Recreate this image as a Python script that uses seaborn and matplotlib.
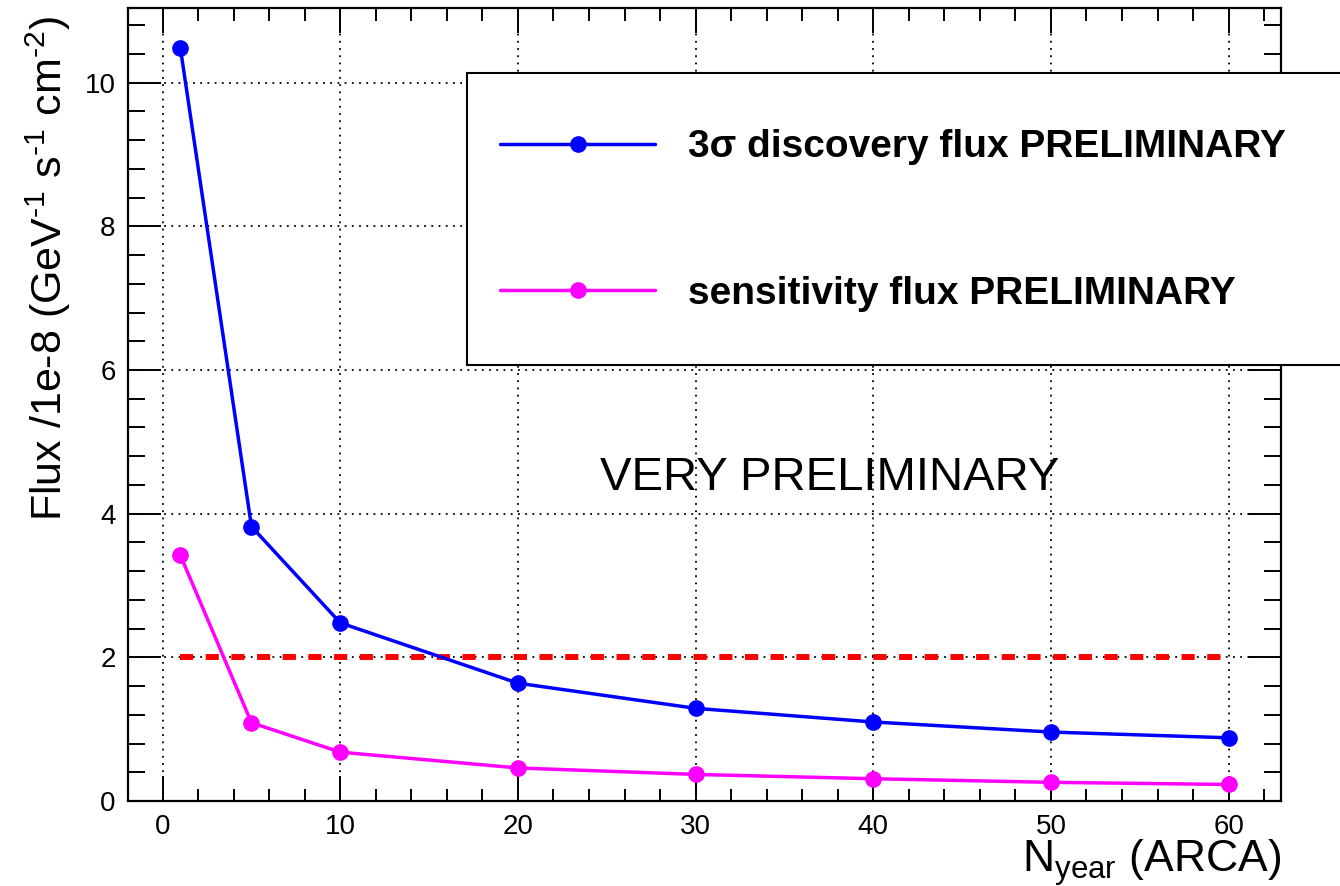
import matplotlib
matplotlib.use("Agg")
import matplotlib.pyplot as plt
from matplotlib.patches import Rectangle
from matplotlib.ticker import MultipleLocator
from matplotlib import font_manager
import seaborn as sns
import pandas as pd

# Number of years of ARCA data taking
n_year = [1, 5, 10, 20, 30, 40, 50, 60]
# 3 sigma discovery flux (units of 1e-8 GeV^-1 s^-1 cm^-2)
discovery_flux = [10.48, 3.82, 2.48, 1.64, 1.29, 1.10, 0.96, 0.88]
# Sensitivity flux (same units)
sensitivity_flux = [3.42, 1.09, 0.68, 0.46, 0.37, 0.31, 0.26, 0.23]
# Reference flux level
reference_level = 2.0
reference_span = [1, 60]

label_discovery = "3σ discovery flux PRELIMINARY"
label_sensitivity = "sensitivity flux PRELIMINARY"

sns.set_style("white")
plt.rcParams["font.family"] = ["Liberation Sans", "DejaVu Sans"]
plt.rcParams["mathtext.fontset"] = "custom"
plt.rcParams["mathtext.rm"] = "Liberation Sans"
plt.rcParams["mathtext.it"] = "Liberation Sans"
plt.rcParams["axes.unicode_minus"] = False
plt.rcParams["text.color"] = "black"
plt.rcParams["axes.labelcolor"] = "black"
plt.rcParams["xtick.color"] = "black"
plt.rcParams["ytick.color"] = "black"

installed = {f.name for f in font_manager.fontManager.ttflist}
legend_family = (["Liberation Sans Narrow", "DejaVu Sans"] if "Liberation Sans Narrow" in installed
                 else ["Liberation Sans", "DejaVu Sans"])

df_disc = pd.DataFrame({"n_year": n_year, "flux": discovery_flux})
df_sens = pd.DataFrame({"n_year": n_year, "flux": sensitivity_flux})

W, H = 1340, 886
fig = plt.figure(figsize=(W / 100, H / 100), dpi=100)
ax = fig.add_axes([128 / W, 1 - 801 / H, (1281 - 128) / W, (801 - 8) / H])

ax.plot(reference_span, [reference_level] * len(reference_span), color="#ff0000", lw=4.3,
        linestyle=(0, (2.2, 2.1)), dash_capstyle="butt", zorder=3)
sns.lineplot(data=df_disc, x="n_year", y="flux", ax=ax, color="#0000ff", lw=2.5,
             marker="o", markersize=12, markeredgewidth=0, label=label_discovery, zorder=4)
sns.lineplot(data=df_sens, x="n_year", y="flux", ax=ax, color="#ff00ff", lw=2.5,
             marker="o", markersize=12, markeredgewidth=0, label=label_sensitivity, zorder=4)

ax.set_xlim(-1.95, 62.95)
ax.set_ylim(0, 11.04)
ax.xaxis.set_major_locator(MultipleLocator(10))
ax.xaxis.set_minor_locator(MultipleLocator(2))
ax.yaxis.set_major_locator(MultipleLocator(2))
ax.yaxis.set_minor_locator(MultipleLocator(0.4))

ax.grid(which="major", color="black", linestyle=(0, (1, 3)), lw=1.3, zorder=1)
ax.set_axisbelow(True)

for s in ax.spines.values():
    s.set_visible(True)
    s.set_color("black")
    s.set_linewidth(1.6)

ax.tick_params(axis="both", which="both", direction="in", top=True, right=True,
               bottom=True, left=True, color="black", width=1.4)
ax.tick_params(axis="x", which="major", length=18, labelsize=20, pad=9)
ax.tick_params(axis="x", which="minor", length=9)
ax.tick_params(axis="y", which="major", length=24, labelsize=20, pad=9)
ax.tick_params(axis="y", which="minor", length=12)

ax.set_xlabel(r"N$_{\mathrm{year}}$ (ARCA)", fontsize=32, loc="right")
ax.xaxis.set_label_coords(1.0, -0.046)
ax.set_ylabel(r"Flux /1e-8 (GeV$^{\text{-1}}$ s$^{\text{-1}}$ cm$^{\text{-2}}$)", fontsize=31, loc="top")
ax.yaxis.set_label_coords(-0.048, 0.99)

ax.text((830 - 128) / 1153, (801 - 478) / 793, "VERY PRELIMINARY", transform=ax.transAxes,
        ha="center", va="center", fontsize=34)

# Legend box running off the right edge of the canvas
box = Rectangle((467 / W, 1 - 365 / H), (1400 - 467) / W, (365 - 73) / H,
                transform=fig.transFigure, facecolor="white", edgecolor="black",
                lw=1.5, zorder=5, clip_on=False)
ax.add_artist(box)
leg = ax.legend(loc="upper left", bbox_to_anchor=(481 / W, 1 - 110 / H),
                bbox_transform=fig.transFigure, frameon=False,
                prop={"family": legend_family, "weight": "bold", "size": 28},
                handlelength=3.98, handletextpad=0.85, labelspacing=2.83, borderpad=0)
leg.set_zorder(6)

fig.savefig("out.png", dpi=100)
